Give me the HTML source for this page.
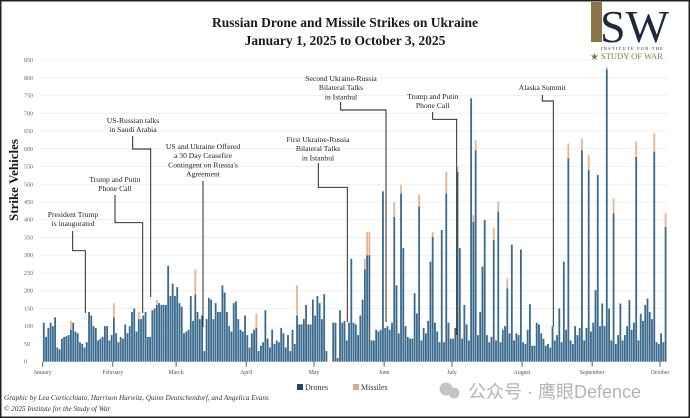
<!DOCTYPE html>
<html><head><meta charset="utf-8"><style>
html,body{margin:0;padding:0;background:#fff;}
svg{display:block;font-family:"Liberation Serif",serif;}
</style></head><body>
<svg id="chart" width="690" height="418" viewBox="0 0 690 418">
<rect x="0.5" y="0.5" width="689" height="417" fill="#fff" stroke="#222" stroke-width="2"/>
<text x="345" y="27" text-anchor="middle" font-size="13.5" font-weight="bold" fill="#1a1a1a">Russian Drone and Missile Strikes on Ukraine</text>
<text x="345" y="45" text-anchor="middle" font-size="13.5" font-weight="bold" fill="#1a1a1a">January 1, 2025 to October 3, 2025</text>
<g>
<rect x="591" y="2" width="11" height="40" fill="#8a7448"/>
<text x="600" y="42" font-size="46" fill="#1c2b3c" font-family="Liberation Serif,serif">SW</text>
<text x="601" y="50" font-size="4.5" fill="#1c2b3c" letter-spacing="1.2">INSTITUTE FOR THE</text>
<text x="601" y="59" font-size="8.5" fill="#8a7448">STUDY OF WAR</text>
<text x="590" y="60" font-size="10" fill="#8a7448">★</text>
</g>
<text transform="translate(18,180) rotate(-90)" text-anchor="middle" font-size="13" font-weight="bold" fill="#1a1a1a">Strike Vehicles</text>
<g id="grid"></g><g id="bars"></g><g id="axis"></g><g id="notes"></g>
<g>
<rect x="297" y="384" width="6" height="6" fill="#23475f"/>
<text x="305" y="390" font-size="8" fill="#333">Drones</text>
<rect x="353" y="384" width="6" height="6" fill="#e3a882"/>
<text x="361" y="390" font-size="8" fill="#333">Missiles</text>
</g>
<text x="4" y="400" font-size="7.2" font-style="italic" fill="#333">Graphic by Lea Corticchiato, Harrison Hurwitz, Quinn Deutschendorf, and Angelica Evans</text>
<text x="4" y="411" font-size="7.2" font-style="italic" fill="#333">© 2025 Institute for the Study of War</text>
<g>
<circle cx="446" cy="389" r="6.5" fill="#c4c4c4"/><circle cx="454" cy="393" r="5.5" fill="#c4c4c4"/>
<text x="468" y="398" font-size="18" fill="#b4b4b4" font-family="Liberation Sans,'Noto Sans CJK SC',sans-serif">公众号 · 鹰眼Defence</text>
</g>
</svg>
<script>
const yTicks=[0,50,100,150,200,250,300,350,400,450,500,550,600,650,700,750,800,850];
const months=["January","February","March","April","May","June","July","August","September","October"];
const monthStartDay=[0,31,59,90,120,151,181,212,243,273];
const drones=[
110,70,95,110,100,125,40,35,65,70,72,75,90,110,85,80,55,50,40,55,140,130,100,95,60,65,70,100,100,60,75,
125,80,55,70,65,105,80,100,140,150,85,120,120,130,140,70,70,145,150,160,165,160,160,160,270,185,220,185,
210,165,155,80,85,90,185,115,190,140,120,130,30,120,180,175,120,165,140,140,215,195,140,100,85,165,170,120,90,85,130,
75,40,80,90,95,30,45,55,145,65,40,90,50,60,55,95,80,40,75,30,90,50,130,105,105,120,160,105,105,175,
130,185,165,120,190,30,0,0,110,110,10,145,110,115,60,110,290,110,105,75,130,175,260,300,300,60,60,90,85,90,480,
95,100,90,110,408,215,80,474,320,100,70,65,65,193,136,437,60,95,80,115,282,352,110,85,55,371,55,474,110,65,
65,95,535,320,65,160,105,60,742,394,596,75,140,268,399,75,55,70,343,60,423,55,90,100,207,80,330,60,80,75,316,
55,50,90,162,45,45,110,105,80,65,45,50,40,99,60,75,150,55,282,90,573,60,50,100,75,95,596,60,95,540,85,
110,202,526,100,164,100,824,150,60,418,50,75,164,60,75,100,174,90,110,577,60,135,115,160,178,140,120,592,55,50,
80,55,380];
const missileDays=[12,31,42,50,67,94,112,142,143,144,155,158,166,172,178,183,190,191,199,201,205,232,238,241,249,252,262,270,275];
const missileVals=[25,40,20,15,70,40,85,30,65,65,42,24,33,14,61,14,19,28,33,28,28,42,33,42,6,42,43,51,38];
const NS="http://www.w3.org/2000/svg";
const X0=42.7,DAY=2.261,Y0=361.7,PXU=0.3549;
function xs(d){return X0+d*DAY;}
function ys(v){return Y0-v*PXU;}
function mk(tag,attrs,parent){const e=document.createElementNS(NS,tag);for(const k in attrs)e.setAttribute(k,attrs[k]);parent.appendChild(e);return e;}
const grid=document.getElementById('grid'),bars=document.getElementById('bars'),axis=document.getElementById('axis'),notes=document.getElementById('notes');
yTicks.forEach(v=>{
 if(v>0){const l=mk('line',{x1:40,x2:668,y1:ys(v),y2:ys(v),stroke:'#ececec','stroke-width':0.7},grid);
 
 }
 const t=mk('text',{x:24,y:ys(v)+2,'font-size':6,fill:'#666'},axis);t.textContent=v;
 
 
});
const miss={};missileDays.forEach((d,i)=>miss[d]=missileVals[i]);
drones.forEach((v,i)=>{
 const r=mk('rect',{x:xs(i)+0.2,y:ys(v),width:DAY-0.45,height:Y0-ys(v),fill:'#3a6a8e'},bars);
 
 
 if(miss[i]){const m=mk('rect',{x:xs(i)+0.2,y:ys(v+miss[i]),width:DAY-0.45,height:miss[i]*PXU,fill:'#e8b48f'},bars);
 
 }
});
months.forEach((m,i)=>{
 const x=xs(monthStartDay[i]);
 const tk=mk('line',{x1:x,x2:x,y1:Y0,y2:Y0+5,stroke:'#333','stroke-width':0.8},axis);
 
 
 const t=mk('text',{x:x,y:374,'text-anchor':'middle','font-size':5.8,fill:'#555'},axis);t.textContent=m;
 
 
});
const ann=[
 {lines:["President Trump","is inaugurated"],cx:73,ty:217,path:"M72.7,231 V250.7 H85.3 V313"},
 {lines:["Trump and Putin","Phone Call"],cx:115,ty:182,path:"M115,195 V222.7 H142.7 V313"},
 {lines:["US-Russian talks","in Saudi Arabia"],cx:133,ty:123,path:"M132.7,136 V149 H150.7 V297"},
 {lines:["US and Ukraine Offered","a 30 Day Ceasefire","Contingent on Russia's","Agreement"],cx:203,ty:149,path:"M203,181 V327"},
 {lines:["First Ukraine-Russia","Bilateral Talks","in Istanbul"],cx:318,ty:142,path:"M318.3,163 V187.3 H347.3 V322"},
 {lines:["Second Ukraine-Russia","Bilateral Talks","in Istanbul"],cx:341,ty:81,path:"M340.7,102 V110 H386 V322"},
 {lines:["Trump and Putin","Phone Call"],cx:432.7,ty:99,path:"M432.7,112 V119.3 H456.7 V335"},
 {lines:["Alaska Summit"],cx:542.3,ty:90,path:"M542.3,95 V101 H553.3 V327"}
];
ann.forEach(a=>{
 const g=mk('g',{},notes);
 
 
 mk('path',{d:a.path,fill:'none',stroke:'#111','stroke-width':0.9},g);
 a.lines.forEach((s,j)=>{const t=mk('text',{x:a.cx,y:a.ty+j*9.2,'text-anchor':'middle','font-size':7.6,fill:'#222'},g);t.textContent=s;});
});
</script>
</body></html>
